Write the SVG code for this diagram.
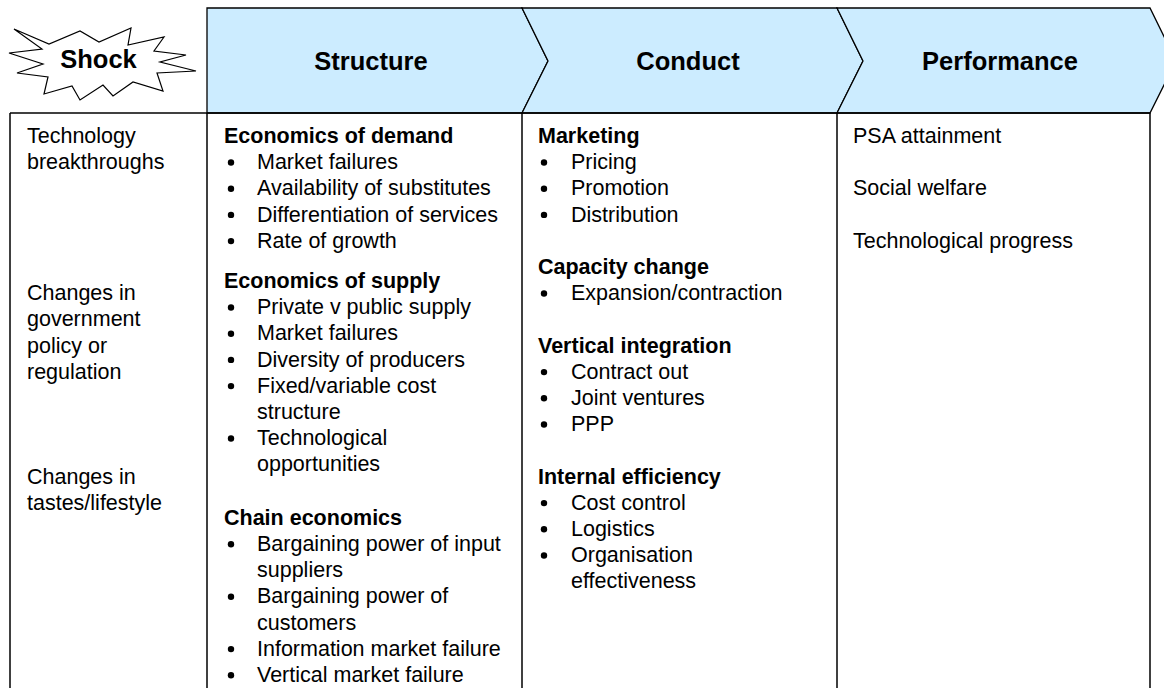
<svg xmlns="http://www.w3.org/2000/svg" width="1164" height="688" viewBox="0 0 1164 688">
<style>
.hdr{fill:#CCECFF;stroke:#000;stroke-width:1.3;stroke-linejoin:miter}
.ht{font-family:"Liberation Sans",Arial,sans-serif;font-weight:bold;font-size:25.5px;fill:#000;text-anchor:middle}
.t{font-family:"Liberation Sans",Arial,sans-serif;font-size:21.5px;fill:#000}
.b{font-weight:bold}
.grid{stroke:#000;stroke-width:1.5;fill:none}
.dot{fill:#000}
</style>
<rect width="1164" height="688" fill="#fff"/>
<g id="shock">
<polygon points="14,29 49,44 80,31 99,42 131,28 128,45 164,37 154,51 186,55 160,62 196,71 157,73 163,91 133,82 113,96 103,85 80,100 72,86 44,94 48,77 17,73 43,64 9,53 42,49" fill="#fff" stroke="#000" stroke-width="1.2"/>
<text class="ht" x="98.5" y="68">Shock</text>
</g>
<g id="structure-header">
<polygon class="hdr" points="207,8 522,8 548,61 522,113 207,113"/>
<text class="ht" x="371" y="70">Structure</text>
</g>
<g id="conduct-header">
<polygon class="hdr" points="522,8 837,8 863,61 837,113 522,113 548,61"/>
<text class="ht" x="688" y="70">Conduct</text>
</g>
<g id="performance-header">
<polygon class="hdr" points="837,8 1150,8 1176,61 1150,113 837,113 863,61"/>
<text class="ht" x="1000" y="70">Performance</text>
</g>
<g id="table-lines">
<line class="grid" x1="10" y1="113" x2="1150" y2="113"/>
<line class="grid" x1="10" y1="113" x2="10" y2="688"/>
<line class="grid" x1="207" y1="113" x2="207" y2="688"/>
<line class="grid" x1="522" y1="113" x2="522" y2="688"/>
<line class="grid" x1="837" y1="113" x2="837" y2="688"/>
<line class="grid" x1="1150" y1="113" x2="1150" y2="688"/>
</g>
<g id="shock-column" class="t">
<text x="27" y="143">Technology</text>
<text x="27" y="169.2">breakthroughs</text>
<text x="27" y="300.2">Changes in</text>
<text x="27" y="326.4">government</text>
<text x="27" y="352.6">policy or</text>
<text x="27" y="378.8">regulation</text>
<text x="27" y="483.6">Changes in</text>
<text x="27" y="509.8">tastes/lifestyle</text>
</g>
<g id="structure-column" class="t">
<text class="b" x="224" y="143">Economics of demand</text>
<circle class="dot" cx="231" cy="162.5" r="3.2"/><text x="257" y="169.2">Market failures</text>
<circle class="dot" cx="231" cy="188.7" r="3.2"/><text x="257" y="195.4">Availability of substitutes</text>
<circle class="dot" cx="231" cy="214.9" r="3.2"/><text x="257" y="221.6">Differentiation of services</text>
<circle class="dot" cx="231" cy="241.1" r="3.2"/><text x="257" y="247.8">Rate of growth</text>
<text class="b" x="224" y="288">Economics of supply</text>
<circle class="dot" cx="231" cy="307.5" r="3.2"/><text x="257" y="314.2">Private v public supply</text>
<circle class="dot" cx="231" cy="333.7" r="3.2"/><text x="257" y="340.4">Market failures</text>
<circle class="dot" cx="231" cy="359.9" r="3.2"/><text x="257" y="366.6">Diversity of producers</text>
<circle class="dot" cx="231" cy="386.1" r="3.2"/><text x="257" y="392.8">Fixed/variable cost</text>
<text x="257" y="419">structure</text>
<circle class="dot" cx="231" cy="438.5" r="3.2"/><text x="257" y="445.2">Technological</text>
<text x="257" y="471.4">opportunities</text>
<text class="b" x="224" y="524.8">Chain economics</text>
<circle class="dot" cx="231" cy="544.3" r="3.2"/><text x="257" y="551">Bargaining power of input</text>
<text x="257" y="577.2">suppliers</text>
<circle class="dot" cx="231" cy="596.7" r="3.2"/><text x="257" y="603.4">Bargaining power of</text>
<text x="257" y="629.6">customers</text>
<circle class="dot" cx="231" cy="649.1" r="3.2"/><text x="257" y="655.8">Information market failure</text>
<circle class="dot" cx="231" cy="675.3" r="3.2"/><text x="257" y="682">Vertical market failure</text>
</g>
<g id="conduct-column" class="t">
<text class="b" x="538" y="143">Marketing</text>
<circle class="dot" cx="544" cy="162.5" r="3.2"/><text x="571" y="169.2">Pricing</text>
<circle class="dot" cx="544" cy="188.7" r="3.2"/><text x="571" y="195.4">Promotion</text>
<circle class="dot" cx="544" cy="214.9" r="3.2"/><text x="571" y="221.6">Distribution</text>
<text class="b" x="538" y="274">Capacity change</text>
<circle class="dot" cx="544" cy="293.5" r="3.2"/><text x="571" y="300.2">Expansion/contraction</text>
<text class="b" x="538" y="352.6">Vertical integration</text>
<circle class="dot" cx="544" cy="372.1" r="3.2"/><text x="571" y="378.8">Contract out</text>
<circle class="dot" cx="544" cy="398.3" r="3.2"/><text x="571" y="405">Joint ventures</text>
<circle class="dot" cx="544" cy="424.5" r="3.2"/><text x="571" y="431.2">PPP</text>
<text class="b" x="538" y="483.6">Internal efficiency</text>
<circle class="dot" cx="544" cy="503.1" r="3.2"/><text x="571" y="509.8">Cost control</text>
<circle class="dot" cx="544" cy="529.3" r="3.2"/><text x="571" y="536">Logistics</text>
<circle class="dot" cx="544" cy="555.5" r="3.2"/><text x="571" y="562.2">Organisation</text>
<text x="571" y="588.4">effectiveness</text>
</g>
<g id="performance-column" class="t">
<text x="853" y="143">PSA attainment</text>
<text x="853" y="195.4">Social welfare</text>
<text x="853" y="247.8">Technological progress</text>
</g>
</svg>
